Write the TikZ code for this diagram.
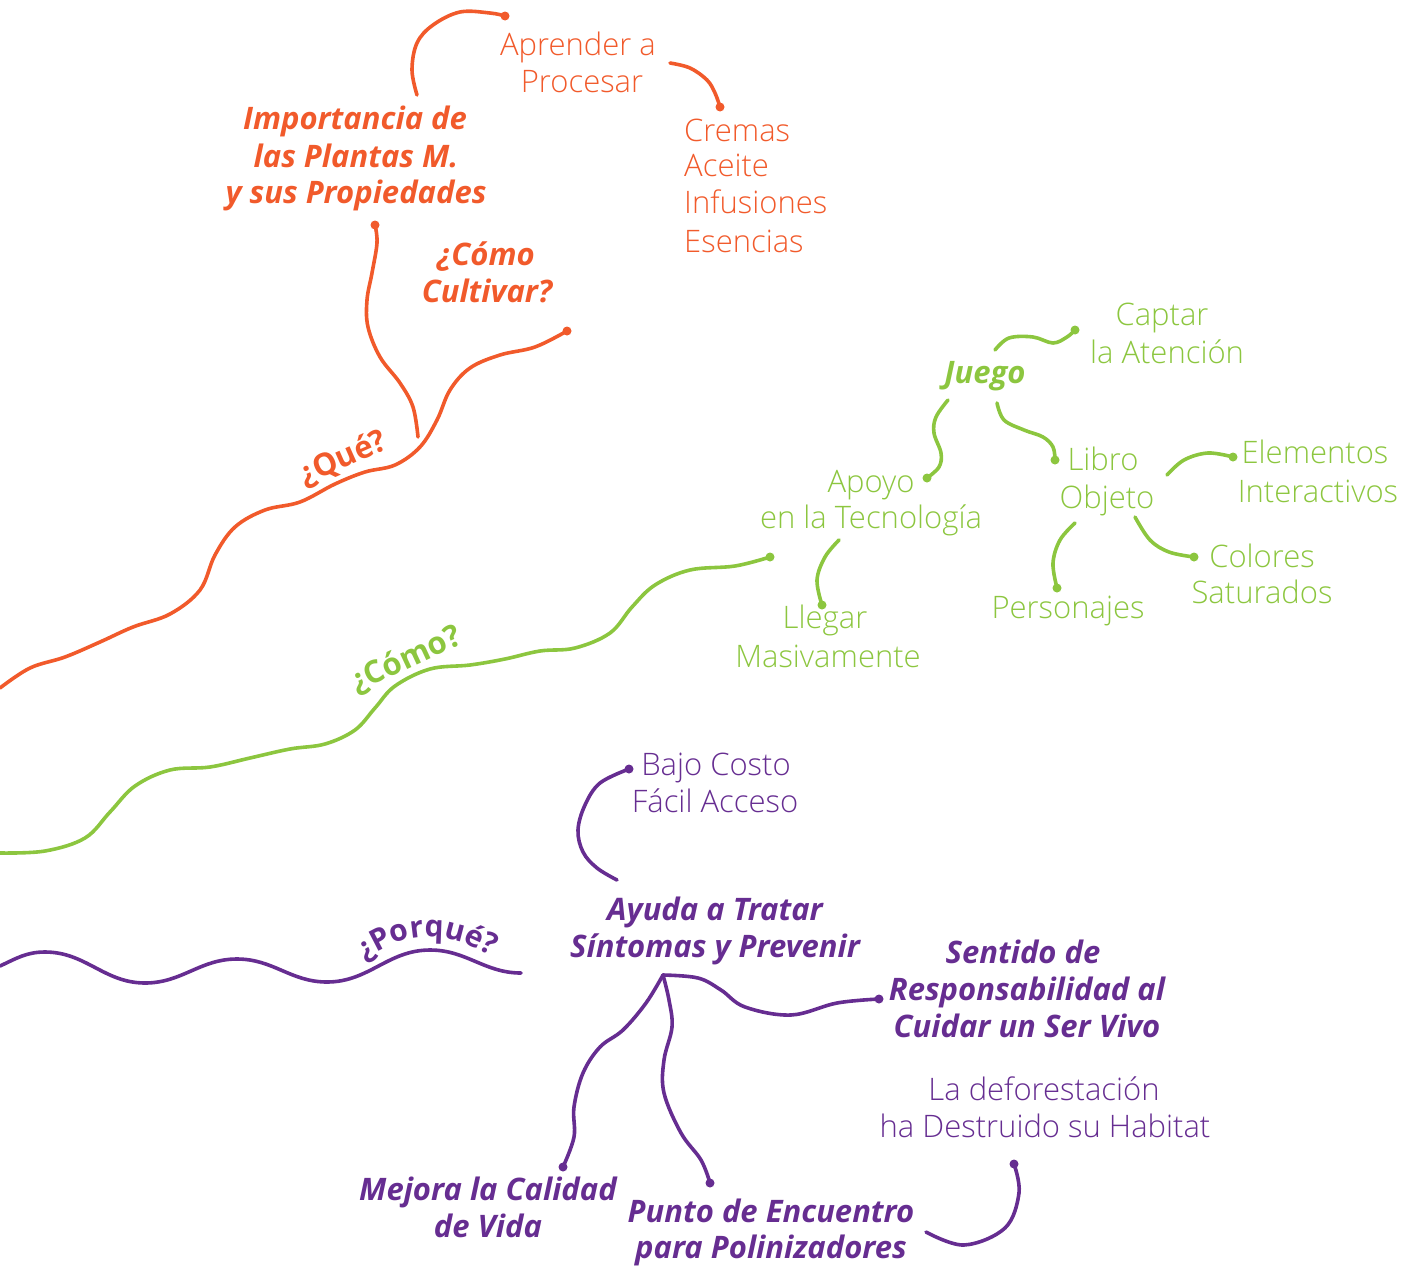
\documentclass[tikz,border=0pt]{standalone}
\usepackage{fontspec}
\setmainfont{Open Sans}
\IfFontExistsTF{Open Sans Light}{\newfontfamily\lightfont{Open Sans Light}}{\newfontfamily\lightfont{Open Sans}}
\IfFontExistsTF{Open Sans SemiBold}{\newfontfamily\semifont{Open Sans SemiBold}}{\newfontfamily\semifont{Open Sans}[UprightFont=*  Bold]}
\usetikzlibrary{decorations.text}
\definecolor{orng}{HTML}{F15A2B}
\definecolor{grn}{HTML}{8CC63F}
\definecolor{purp}{HTML}{662D91}
\tikzset{
  reg/.style={anchor=base, inner sep=0pt, font=\lightfont\fontsize{31}{37}\selectfont},
  regw/.style={anchor=base west, inner sep=0pt, font=\lightfont\fontsize{31}{37}\selectfont},
  bold/.style={anchor=base, inner sep=0pt, font=\bfseries\itshape\fontsize{31}{37}\selectfont},
  lab/.style={anchor=base, inner sep=0pt, font=\semifont\fontsize{31}{34}\selectfont},
  wire/.style={line width=3.6pt, line cap=round, line join=round},
  dot/.style={circle, fill, inner sep=0pt, minimum size=9pt},
}
\begin{document}
\begin{tikzpicture}[x=1pt,y=-1pt]
\useasboundingbox (0,0) rectangle (1408,1269);

% ---------------- ORANGE ----------------
\coordinate (oS) at (0,688);
\coordinate (oJ) at (418,437);
\coordinate (oImp) at (375,225);
\coordinate (oCul) at (567,331);
\coordinate (oA1) at (417,95);
\coordinate (oA2) at (505,16);
\coordinate (oP1) at (670,63);
\coordinate (oP2) at (720,107);

\draw[wire, orng] plot[smooth, tension=0.6] coordinates {(oS) (30,668) (65,657) (100,642) (133,627) (170,614) (200,590) (215,555) (235,527) (265,510) (300,502) (335,484) (365,472) (395,465) (420,447) (437,420) (450,390) (470,368) (500,355) (535,347) (oCul)};
\draw[wire, orng] plot[smooth, tension=0.6] coordinates {(oJ) (413,407) (400,383) (380,357) (368,327) (367,300) (372,273) (377,243) (oImp)};
\draw[wire, orng] plot[smooth, tension=0.6] coordinates {(oA1) (412,70) (417,43) (433,25) (460,12) (490,13) (oA2)};
\draw[wire, orng] plot[smooth, tension=0.6] coordinates {(oP1) (690,68) (707,80) (715,93) (oP2)};
\node[dot, orng] (doImp) at (oImp) {};
\node[dot, orng] (doCul) at (oCul) {};
\node[dot, orng] (doA2) at (oA2) {};
\node[dot, orng] (doP2) at (oP2) {};

\node[reg, text=orng] (apr1) at (578,55) {Aprender a};
\node[reg, text=orng] (apr2) at (582,92) {Procesar};
\node[bold, text=orng] (imp1) at (355,129) {Importancia de};
\node[bold, text=orng] (imp2) at (356,167) {las Plantas M.};
\node[bold, text=orng] (imp3) at (356,203) {y sus Propiedades};
\node[bold, text=orng] (cul1) at (486,265) {¿Cómo};
\node[bold, text=orng] (cul2) at (487,302) {Cultivar?};
\node[regw, text=orng] (cre1) at (684,141) {Cremas};
\node[regw, text=orng] (cre2) at (684,176) {Aceite};
\node[regw, text=orng] (cre3) at (684,213) {Infusiones};
\node[regw, text=orng] (cre4) at (684,252) {Esencias};
\node[lab, text=orng, rotate=24] (que) at (347,467) {¿Qué?};

% ---------------- GREEN ----------------
\coordinate (gS) at (0,853);
\coordinate (gT) at (770,557);
\coordinate (gJ1) at (995,350);
\coordinate (gC) at (1075,330);
\coordinate (gJ2) at (948,400);
\coordinate (gAp) at (927,478);
\coordinate (gJ3) at (997,403);
\coordinate (gLi) at (1055,460);
\coordinate (gL1) at (1167,475);
\coordinate (gEl) at (1233,457);
\coordinate (gL2) at (1135,517);
\coordinate (gCo) at (1194,557);
\coordinate (gL3) at (1075,523);
\coordinate (gPe) at (1057,588);
\coordinate (gT1) at (839,540);
\coordinate (gLl) at (822,605);

\draw[wire, grn] plot[smooth, tension=0.6] coordinates {(gS) (45,851) (85,838) (110,812) (135,786) (170,770) (210,767) (250,758) (290,749) (325,744) (355,730) (375,708) (395,686) (430,669) (470,665) (505,659) (540,651) (575,648) (610,633) (632,607) (655,585) (690,570) (735,566) (gT)};
\draw[wire, grn] plot[smooth, tension=0.6] coordinates {(gJ1) (1009,338) (1033,337) (1053,343) (1067,337) (gC)};
\draw[wire, grn] plot[smooth, tension=0.6] coordinates {(gJ2) (936,417) (934,433) (941,453) (939,467) (gAp)};
\draw[wire, grn] plot[smooth, tension=0.6] coordinates {(gJ3) (1004,420) (1024,430) (1043,437) (1053,447) (gLi)};
\draw[wire, grn] plot[smooth, tension=0.6] coordinates {(gL1) (1184,460) (1208,453) (gEl)};
\draw[wire, grn] plot[smooth, tension=0.6] coordinates {(gL2) (1150,540) (1169,552) (gCo)};
\draw[wire, grn] plot[smooth, tension=0.6] coordinates {(gL3) (1060,540) (1053,563) (gPe)};
\draw[wire, grn] plot[smooth, tension=0.6] coordinates {(gT1) (825,557) (817,580) (gLl)};
\foreach \p in {gT,gC,gAp,gLi,gEl,gCo,gPe,gLl} {\node[dot, grn] (d\p) at (\p) {};}

\node[reg, text=grn] (cap1) at (1162,325) {Captar};
\node[reg, text=grn] (cap2) at (1167,363) {la Atención};
\node[bold, text=grn] (jue) at (985,383) {Juego};
\node[reg, text=grn] (lib1) at (1103,470) {Libro};
\node[reg, text=grn] (lib2) at (1107,508) {Objeto};
\node[reg, text=grn] (ele1) at (1315,463) {Elementos};
\node[reg, text=grn] (ele2) at (1318,502) {Interactivos};
\node[reg, text=grn] (apo1) at (871,492) {Apoyo};
\node[reg, text=grn] (apo2) at (871,528) {en la Tecnología};
\node[reg, text=grn] (col1) at (1262,567) {Colores};
\node[reg, text=grn] (col2) at (1262,603) {Saturados};
\node[reg, text=grn] (per) at (1068,618) {Personajes};
\node[reg, text=grn] (lle1) at (825,628) {Llegar};
\node[reg, text=grn] (lle2) at (828,667) {Masivamente};
\node[lab, text=grn, rotate=25] (como) at (410,668) {¿Cómo?};

% ---------------- PURPLE ----------------
\coordinate (pS) at (0,966);
\coordinate (pE) at (521,973);
\coordinate (pB) at (629,769);
\coordinate (pB2) at (617,880);
\coordinate (pH) at (663,975);
\coordinate (pSe) at (879,999);
\coordinate (pMe) at (563,1167);
\coordinate (pPu) at (710,1183);
\coordinate (pD) at (1014,1164);
\coordinate (pD2) at (926,1232);

\draw[wire, purp] (pS) to[out=25,in=180] (45,952) to[out=0,in=180] (145,983) to[out=0,in=180] (237,959) to[out=0,in=180] (327,982) to[out=0,in=180] (430,950) to[out=0,in=180] (pE);
\draw[wire, purp] plot[smooth, tension=0.6] coordinates {(pB) (600,783) (585,805) (578,830) (583,852) (597,868) (pB2)};
\draw[wire, purp] plot[smooth, tension=0.6] coordinates {(pH) (698,978) (721,990) (745,1007) (791,1015) (837,1003) (pSe)};
\draw[wire, purp] plot[smooth, tension=0.6] coordinates {(pH) (646,1003) (623,1030) (600,1047) (583,1073) (574,1107) (574,1137) (pMe)};
\draw[wire, purp] plot[smooth, tension=0.6] coordinates {(pH) (669,1000) (672,1027) (664,1060) (664,1093) (681,1133) (701,1160) (pPu)};
\draw[wire, purp] plot[smooth, tension=0.6] coordinates {(pD) (1019,1193) (1005,1228) (964,1245) (pD2)};
\foreach \p in {pB,pSe,pMe,pPu,pD} {\node[dot, purp] (d\p) at (\p) {};}

\path[decorate, decoration={text along path, text={|\semifont\fontsize{30}{34}\selectfont|¿Porqué?}, text align=center, text color=purp}] (342,974) to[out=30,in=180] (430,937) to[out=0,in=160] (515,967);

\node[reg, text=purp] (baj1) at (716,775) {Bajo Costo};
\node[reg, text=purp] (baj2) at (715,812) {Fácil Acceso};
\node[bold, text=purp] (ayu1) at (715,920) {Ayuda a Tratar};
\node[bold, text=purp] (ayu2) at (715,957) {Síntomas y Prevenir};
\node[bold, text=purp] (sen1) at (1023,963) {Sentido de};
\node[bold, text=purp] (sen2) at (1027,1000) {Responsabilidad al};
\node[bold, text=purp] (sen3) at (1027,1037) {Cuidar un Ser Vivo};
\node[reg, text=purp] (def1) at (1044,1100) {La deforestación};
\node[reg, text=purp] (def2) at (1045,1137) {ha Destruido su Habitat};
\node[bold, text=purp] (mej1) at (488,1200) {Mejora la Calidad};
\node[bold, text=purp] (mej2) at (488,1237) {de Vida};
\node[bold, text=purp] (pun1) at (771,1222) {Punto de Encuentro};
\node[bold, text=purp] (pun2) at (771,1258) {para Polinizadores};
\end{tikzpicture}
\end{document}
